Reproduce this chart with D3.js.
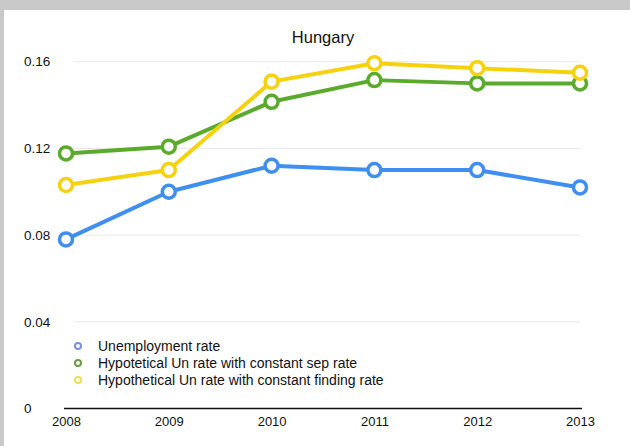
<!DOCTYPE html>
<html>
<head>
<meta charset="utf-8">
<script src="https://cdn.jsdelivr.net/npm/d3@7"></script>
<style>
  html, body { margin: 0; padding: 0; background: #c9c9c9; }
  svg { display: block; }
  text { font-family: "Liberation Sans", Arial, Helvetica, sans-serif; fill: #111; }
</style>
</head>
<body>
<script>
// Hungary: actual vs. hypothetical unemployment rates
const years = [2008, 2009, 2010, 2011, 2012, 2013];
const unemploymentRate = [0.078, 0.100, 0.112, 0.110, 0.110, 0.102];
const constSepRate = [0.1177, 0.1208, 0.1415, 0.1515, 0.150, 0.150];
const constFindingRate = [0.1031, 0.110, 0.1508, 0.1593, 0.157, 0.1549];
const yTicks = [0, 0.04, 0.08, 0.12, 0.16];
const yTickLabels = ["0", "0.04", "0.08", "0.12", "0.16"];
const seriesNames = [
  "Unemployment rate",
  "Hypotetical Un rate with constant sep rate",
  "Hypothetical Un rate with constant finding rate"
];

const series = [
  { name: seriesNames[0], values: unemploymentRate, color: "#3f8ff0", legend: "#7d8fe0" },
  { name: seriesNames[1], values: constSepRate, color: "#5aab2b", legend: "#6f9a45" },
  { name: seriesNames[2], values: constFindingRate, color: "#f6d20e", legend: "#f2dc5a" }
];

const W = 630, H = 446;
const svg = d3.select("body").append("svg").attr("width", W).attr("height", H);

// white chart panel inside the grey frame
svg.append("rect").attr("x", 4).attr("y", 10).attr("width", W - 4).attr("height", H - 10).attr("fill", "#fff");

const x = d3.scalePoint().domain(years).range([66, 580]);
const y = d3.scaleLinear().domain([0, 0.16]).range([408.5, 61.7]);

// title
svg.append("text").attr("x", 323).attr("y", 43).attr("text-anchor", "middle")
  .style("font-size", "16.5px").text("Hungary");

// horizontal gridlines
svg.append("g").selectAll("line").data(yTicks.filter(d => d > 0)).join("line")
  .attr("x1", x(years[0]) + 8).attr("x2", x(years[years.length - 1]))
  .attr("y1", d => y(d)).attr("y2", d => y(d))
  .attr("stroke", "#e8e8e8").attr("stroke-width", 1);

// y tick labels (left aligned)
svg.append("g").selectAll("text").data(yTicks).join("text")
  .attr("x", 24).attr("y", d => y(d)).attr("dy", "0.35em")
  .style("font-size", "13.5px")
  .text((d, i) => yTickLabels[i]);

// x axis baseline and year labels via d3 axis
const xAxis = svg.append("g").attr("transform", `translate(0,${y(0)})`)
  .call(d3.axisBottom(x).tickSize(0).tickPadding(8).tickFormat(d3.format("d")));
xAxis.select(".domain").attr("stroke", "#111").attr("stroke-width", 1.5)
  .attr("d", `M${x(years[0]) - 2},0H${x(years[years.length - 1]) + 2}`);
xAxis.selectAll("text").style("font-size", "13px")
  .style("font-family", "'Liberation Sans', Arial, sans-serif").attr("fill", "#111");

// series lines and markers
const line = d3.line().x((d, i) => x(years[i])).y(d => y(d));
const g = svg.append("g");
series.forEach(s => {
  g.append("path").datum(s.values).attr("d", line)
    .attr("fill", "none").attr("stroke", s.color).attr("stroke-width", 4)
    .attr("stroke-linejoin", "round");
});
series.forEach(s => {
  g.selectAll(null).data(s.values).join("circle")
    .attr("cx", (d, i) => x(years[i])).attr("cy", d => y(d)).attr("r", 6.5)
    .attr("fill", "#fff").attr("stroke", s.color).attr("stroke-width", 3.5);
});

// legend
const legend = svg.append("g").attr("transform", "translate(78,346)");
const rows = legend.selectAll("g").data(series).join("g")
  .attr("transform", (d, i) => `translate(0,${i * 17})`);
rows.append("circle").attr("r", 3).attr("fill", "#fff")
  .attr("stroke", d => d.legend).attr("stroke-width", 2);
rows.append("text").attr("x", 20).attr("dy", "0.35em")
  .style("font-size", "14px").text(d => d.name);
</script>
</body>
</html>
